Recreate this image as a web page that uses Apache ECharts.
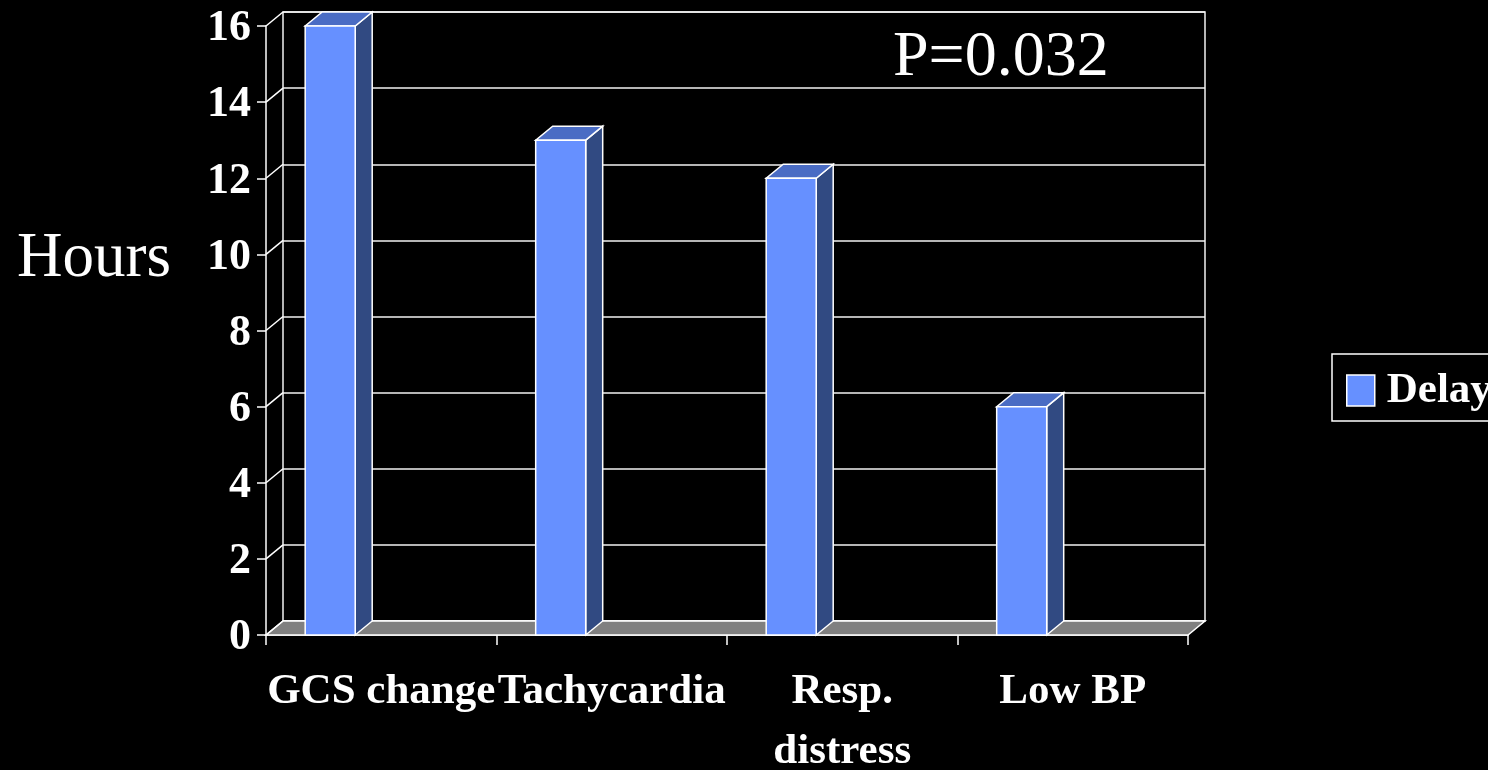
<!DOCTYPE html>
<html>
<head>
<meta charset="UTF-8">
<title>Delay (hours) by sign</title>
<script src="https://cdn.jsdelivr.net/npm/echarts@6/dist/echarts.min.js"></script>
<style>
  html, body { margin: 0; padding: 0; background: #000; }
  #chart { width: 1488px; height: 770px; }
</style>
</head>
<body>
<div id="chart"></div>
<script>
// data
const categories = ['GCS change', 'Tachycardia', 'Resp.\ndistress', 'Low BP'];
const delayHours = [16, 13, 12, 6];
const hourTicks = [0, 2, 4, 6, 8, 10, 12, 14, 16];
const seriesName = 'Delay';
const pText = 'P=0.032';
const yTitle = 'Hours';

const serif = "'Liberation Serif', 'Times New Roman', serif";
const DX = 17, DY = 14;   // depth of the fake 3D
const frontColor = '#6690FF', sideColor = '#314A82', topColor = '#4A6CC4';
const edge = { stroke: '#fff', lineWidth: 1.5 };

const chart = echarts.init(document.getElementById('chart'));

const option = {
  backgroundColor: '#000',
  animation: false,
  grid: [
    // front plane
    { left: 266, top: 26, width: 922, height: 609, outerBoundsMode: 'none', containLabel: false },
    // back wall
    { left: 266 + DX, top: 26 - DY, width: 922, height: 609, outerBoundsMode: 'none', containLabel: false,
      show: true, borderColor: '#f2f2f2', borderWidth: 1.5, backgroundColor: 'transparent' }
  ],
  xAxis: [
    {
      gridIndex: 0, type: 'category', data: categories,
      axisLine: { lineStyle: { color: '#fff', width: 1.5 } },
      axisTick: { show: true, length: 10, lineStyle: { color: '#fff', width: 1.5 } },
      axisLabel: { color: '#fff', fontFamily: serif, fontWeight: 'bold', fontSize: 43,
                   lineHeight: 60, margin: 27, interval: 0 }
    },
    { gridIndex: 1, type: 'category', data: categories, show: false }
  ],
  yAxis: [
    {
      gridIndex: 0, type: 'value', min: 0, max: 16, interval: 2,
      axisLine: { show: true, lineStyle: { color: '#fff', width: 1.5 } },
      axisTick: { show: true, length: 9, lineStyle: { color: '#fff', width: 1.5 } },
      splitLine: { show: false },
      // labels sit a little below their tick on the slide
      axisLabel: { color: '#fff', fontFamily: serif, fontWeight: 'bold', fontSize: 44, margin: 15,
                   verticalAlign: 'top', lineHeight: 6 }
    },
    {
      gridIndex: 1, type: 'value', min: 0, max: 16, interval: 2,
      axisLine: { show: false }, axisTick: { show: false }, axisLabel: { show: false },
      splitLine: { show: true, lineStyle: { color: '#f2f2f2', width: 1.5 } }
    }
  ],
  legend: {
    data: [{ name: seriesName, icon: 'rect', itemStyle: { borderColor: '#fff', borderWidth: 1.5 } }],
    left: 1332, top: 354,
    padding: [15, 14, 9, 14],
    borderColor: '#fff', borderWidth: 1.5,
    itemWidth: 28, itemHeight: 31,
    textStyle: { color: '#fff', fontFamily: serif, fontWeight: 'bold', fontSize: 43,
                 lineHeight: 42, padding: [0, 0, 0, 7] }
  },
  graphic: [
    { type: 'text', left: 17, top: 228,
      style: { text: yTitle, fill: '#fff', font: '63px ' + serif } },
    { type: 'text', left: 893, top: 26,
      style: { text: pText, fill: '#fff', font: '64px ' + serif } }
  ],
  series: [
    {
      // floor
      type: 'custom', xAxisIndex: 0, yAxisIndex: 0, silent: true, z: 1,
      data: [[0, 0]],
      renderItem: function (params, api) {
        const cs = params.coordSys;
        const y0 = api.coord([0, 0])[1];
        return {
          type: 'polygon',
          shape: { points: [[cs.x, y0], [cs.x + cs.width, y0],
                            [cs.x + cs.width + DX, y0 - DY], [cs.x + DX, y0 - DY]] },
          style: Object.assign({ fill: '#808080' }, edge)
        };
      }
    },
    {
      // diagonal tick connectors
      type: 'custom', xAxisIndex: 0, yAxisIndex: 0, silent: true, z: 2,
      data: hourTicks.map(v => [0, v]),
      renderItem: function (params, api) {
        const cs = params.coordSys;
        const y = api.coord([0, api.value(1)])[1];
        return {
          type: 'line',
          shape: { x1: cs.x, y1: y, x2: cs.x + DX, y2: y - DY },
          style: { stroke: '#fff', lineWidth: 1.5 }
        };
      }
    },
    {
      name: seriesName,
      type: 'custom', xAxisIndex: 0, yAxisIndex: 0, z: 3,
      itemStyle: { color: frontColor },
      encode: { x: 0, y: 1 },
      data: delayHours.map((v, i) => [i, v]),
      renderItem: function (params, api) {
        const band = api.size([1, 0])[0];
        const t = api.coord([api.value(0), api.value(1)]);
        const b = api.coord([api.value(0), 0]);
        const x0 = t[0] - band * 0.33, x1 = t[0] - band * 0.113;
        const yt = t[1], yb = b[1];
        return {
          type: 'group',
          children: [
            { type: 'polygon',
              shape: { points: [[x1, yt], [x1 + DX, yt - DY], [x1 + DX, yb - DY], [x1, yb]] },
              style: Object.assign({ fill: sideColor }, edge) },
            { type: 'polygon',
              shape: { points: [[x0, yt], [x1, yt], [x1 + DX, yt - DY], [x0 + DX, yt - DY]] },
              style: Object.assign({ fill: topColor }, edge) },
            { type: 'rect',
              shape: { x: x0, y: yt, width: x1 - x0, height: yb - yt },
              style: Object.assign({ fill: frontColor }, edge) }
          ]
        };
      }
    }
  ]
};

chart.setOption(option);
window.addEventListener('resize', function () { chart.resize(); });
</script>
</body>
</html>
